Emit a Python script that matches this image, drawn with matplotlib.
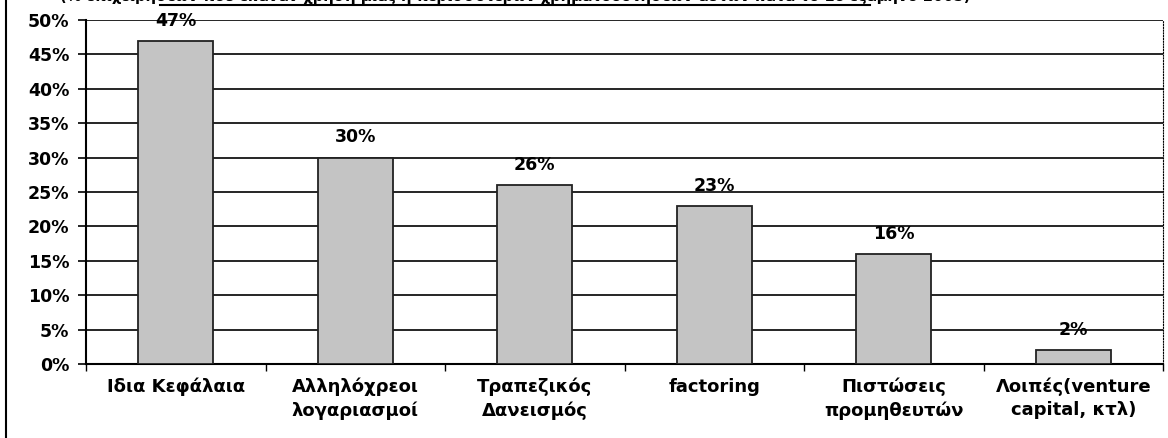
import matplotlib
matplotlib.use("Agg")
import matplotlib.pyplot as plt
from matplotlib.lines import Line2D
import numpy as np

categories = ["Ιδια Κεφάλαια", "Αλληλόχρεοι\nλογαριασμοί", "Τραπεζικός\nΔανεισμός",
              "factoring", "Πιστώσεις\nπρομηθευτών", "Λοιπές(venture\ncapital, κτλ)"]
values = [47, 30, 26, 23, 16, 2]
yticks = [0, 5, 10, 15, 20, 25, 30, 35, 40, 45, 50]
title = "(% επιχειρήσεων που έκαναν χρήση μίας ή περισσοτέρων χρηματοδοτήσεων αυτών κατά το 1ο εξάμηνο 2005)"

plt.rcParams['font.family'] = ['DejaVu Sans']

W, H = 1168, 438
fig = plt.figure(figsize=(W / 100, H / 100), dpi=100)
left, right = 86 / W, 1163 / W
bottom, top = 1 - 364 / H, 1 - 20 / H
ax = fig.add_axes([left, bottom, right - left, top - bottom])

x = np.arange(len(categories))
ax.bar(x, values, width=0.42, color="#c4c4c4", edgecolor="#222222", linewidth=1.3, zorder=3)
ax.set_xlim(-0.5, len(categories) - 0.5)
ax.set_ylim(0, 50)
ax.set_yticks(yticks)
ax.set_yticklabels([f"{v}%" for v in yticks], fontsize=12.5, fontweight="bold")
ax.yaxis.grid(True, color="black", linewidth=1.2, zorder=0)
ax.set_xticks(x)
ax.set_xticklabels(categories, fontsize=13, fontweight="semibold", linespacing=1.35)
ax.tick_params(axis="x", length=0, pad=10)
ax.tick_params(axis="y", length=6, width=1.2, pad=6)
ax.set_xticks(np.arange(len(categories) + 1) - 0.5, minor=True)
ax.tick_params(axis="x", which="minor", length=5, width=1, direction="out")
ax.spines["top"].set_visible(False)
ax.spines["right"].set_linestyle((0, (1, 1.5)))
ax.spines["right"].set_linewidth(0.8)
ax.spines["left"].set_linewidth(1.5)
ax.spines["bottom"].set_linewidth(1.5)

for xi, v in zip(x, values):
    ax.annotate(f"{v}%", (xi, v), xytext=(0, 8), textcoords="offset points",
                ha="center", va="bottom", fontsize=12.5, fontweight="bold", zorder=4)

# partially visible, cut-off title at the very top (as in the scanned source)
fig.text(515 / W, 1 - 4 / H, title, ha="center", va="bottom", fontsize=10.5,
         fontweight="bold")
fig.add_artist(Line2D([160 / W, 870 / W], [1 - 5 / H, 1 - 5 / H], color="black", linewidth=1.5))
fig.add_artist(Line2D([6 / W, 6 / W], [0, 1], color="black", linewidth=1.5))

fig.savefig("out.png", dpi=100, facecolor="white")
